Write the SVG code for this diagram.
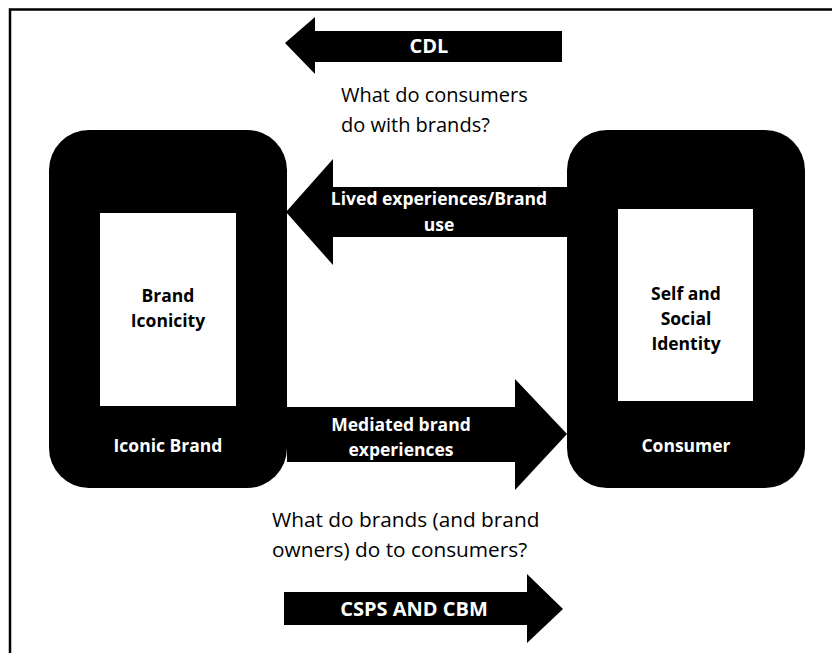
<svg xmlns="http://www.w3.org/2000/svg" width="832" height="653" viewBox="0 0 832 653">
<style>
.node{fill:#000}
.inner{fill:#fff}
.arrow{fill:#000}
.lbl{font-family:"Open Sans","Liberation Sans",sans-serif;font-weight:bold;font-size:17.5px;text-anchor:middle}
.big{font-size:20px}
.w{fill:#fff}
.b{fill:#000}
.q{font-family:"Open Sans","Liberation Sans",sans-serif;font-size:20px;fill:#000}
.q2{font-size:20.8px}
</style>
<rect width="832" height="653" fill="#fff"/>
<path d="M10 653 V9.5 H832" fill="none" stroke="#000" stroke-width="2.5"/>
<g id="connectors">
  <g id="cdl">
    <polygon class="arrow" points="562,31 315,31 315,17 285,43 315,74 315,62 562,62"/>
    <text class="lbl big w" x="429" y="53">CDL</text>
  </g>
  <g id="lived">
    <polygon class="arrow" points="568,187 333,187 333,159 286,212 333,265 333,237 568,237"/>
    <text class="lbl w" x="439" y="205">Lived experiences/Brand</text>
    <text class="lbl w" x="439" y="231">use</text>
  </g>
  <g id="mediated">
    <polygon class="arrow" points="287,407 515,407 515,379 567,434 515,490 515,462 287,462"/>
    <text class="lbl w" x="401" y="431">Mediated brand</text>
    <text class="lbl w" x="401" y="456">experiences</text>
  </g>
  <g id="csps">
    <polygon class="arrow" points="284,592 527,592 527,574 563,609 527,643 527,625 284,625"/>
    <text class="lbl big w" x="414" y="616">CSPS AND CBM</text>
  </g>
</g>
<g id="iconic-brand">
  <rect class="node" x="49" y="130" width="238" height="358" rx="40"/>
  <rect class="inner" x="100" y="213" width="136" height="193"/>
  <text class="lbl b" x="168" y="302">Brand</text>
  <text class="lbl b" x="168" y="327">Iconicity</text>
  <text class="lbl w" x="168" y="452">Iconic Brand</text>
</g>
<g id="consumer">
  <rect class="node" x="567" y="130" width="238" height="358" rx="40"/>
  <rect class="inner" x="618" y="209" width="135" height="192"/>
  <text class="lbl b" x="686" y="300">Self and</text>
  <text class="lbl b" x="686" y="325">Social</text>
  <text class="lbl b" x="686" y="350">Identity</text>
  <text class="lbl w" x="686" y="452">Consumer</text>
</g>
<g id="questions">
  <text class="q" x="341" y="102">What do consumers</text>
  <text class="q" x="341" y="132">do with brands?</text>
  <text class="q q2" x="272" y="527">What do brands (and brand</text>
  <text class="q q2" x="272" y="557">owners) do to consumers?</text>
</g>
</svg>
